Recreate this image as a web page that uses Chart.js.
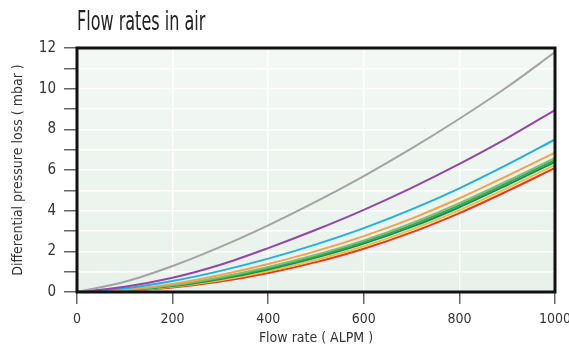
<!DOCTYPE html>
<html>
<head>
<meta charset="utf-8">
<script src="https://cdn.jsdelivr.net/npm/chart.js@4/dist/chart.umd.min.js"></script>
<style>
  html, body { margin: 0; padding: 0; background: #fff; }
  #wrap { position: relative; width: 569px; height: 351px; }
</style>
</head>
<body>
<div id="wrap"><canvas id="flow-chart"></canvas></div>
<script>
/* ── Data ── */
const flowRates = [0, 100, 200, 300, 400, 500, 600, 700, 800, 900, 1000];

const grayLoss       = [0, 0.5, 1.28, 2.22, 3.28, 4.44, 5.7, 7.06, 8.52, 10.08, 11.8];
const purpleLoss     = [0, 0.26, 0.7, 1.34, 2.16, 3.06, 4.04, 5.12, 6.3, 7.57, 8.95];
const blueLoss       = [0, 0.18, 0.54, 1.04, 1.64, 2.34, 3.14, 4.06, 5.1, 6.26, 7.5];
const orangeLoss     = [0, 0.12, 0.4, 0.84, 1.38, 2.01, 2.75, 3.61, 4.61, 5.71, 6.85];
const lightGreenLoss = [0, 0.1, 0.34, 0.73, 1.23, 1.83, 2.54, 3.39, 4.37, 5.46, 6.6];
const greenLoss      = [0, 0.09, 0.32, 0.68, 1.17, 1.76, 2.46, 3.29, 4.27, 5.36, 6.5];
const tealLoss       = [0, 0.08, 0.29, 0.64, 1.11, 1.69, 2.38, 3.2, 4.17, 5.26, 6.4];
const yellowLoss     = [0, 0.07, 0.26, 0.58, 1.02, 1.58, 2.25, 3.07, 4.03, 5.11, 6.25];
const redLoss        = [0, 0.06, 0.22, 0.51, 0.93, 1.47, 2.13, 2.93, 3.88, 4.96, 6.1];

const yTicks = [0, 2, 4, 6, 8, 10, 12];
const xTicks = [0, 200, 400, 600, 800, 1000];

const FONT = "'Liberation Sans Narrow', 'DejaVu Sans Condensed', 'Arial Narrow', sans-serif";

/* ── Series styling ── */
const series = [
  { label: 'A', data: grayLoss,       color: '#a3a3a3' },
  { label: 'B', data: purpleLoss,     color: '#9346a8' },
  { label: 'C', data: blueLoss,       color: '#1fb0e6' },
  { label: 'D', data: orangeLoss,     color: '#f7a04b' },
  { label: 'E', data: lightGreenLoss, color: '#78c26f' },
  { label: 'F', data: greenLoss,      color: '#34a853' },
  { label: 'G', data: tealLoss,       color: '#138a5e' },
  { label: 'H', data: yellowLoss,     color: '#f2c12e' },
  { label: 'I', data: redLoss,        color: '#e8352a' }
];

/* ── Plot background, frame and title ── */
const framePlugin = {
  id: 'frame',
  beforeDraw(chart) {
    const { ctx, chartArea: a } = chart;
    const g = ctx.createLinearGradient(0, a.top, 0, a.bottom);
    g.addColorStop(0, '#f3f8f4');
    g.addColorStop(1, '#e7f1ea');
    ctx.save();
    ctx.fillStyle = g;
    ctx.fillRect(a.left, a.top, a.right - a.left, a.bottom - a.top);
    ctx.restore();
  },
  afterDraw(chart) {
    const { ctx, chartArea: a } = chart;
    ctx.save();
    ctx.strokeStyle = '#111';
    ctx.lineWidth = 3;
    ctx.strokeRect(a.left, a.top, a.right - a.left, a.bottom - a.top);

    // title, squeezed to look condensed
    ctx.fillStyle = '#222';
    ctx.font = '27px ' + FONT;
    ctx.textBaseline = 'middle';
    ctx.translate(a.left, 23);
    ctx.scale(0.66, 1);
    ctx.fillText('Flow rates in air', 0, 0);
    ctx.restore();
  }
};

new Chart(document.getElementById('flow-chart'), {
  type: 'line',
  data: {
    labels: flowRates,
    datasets: series.map(s => ({
      label: s.label,
      data: s.data.map((v, i) => ({ x: flowRates[i], y: v })),
      borderColor: s.color,
      borderWidth: 2,
      pointRadius: 0,
      fill: false,
      cubicInterpolationMode: 'monotone'
    }))
  },
  options: {
    responsive: true,
    maintainAspectRatio: false,
    animation: false,
    layout: { padding: { top: 48, right: 0, left: 0, bottom: 0 } },
    plugins: {
      legend: { display: false },
      tooltip: { enabled: false }
    },
    scales: {
      x: {
        type: 'linear',
        min: 0,
        max: 1000,
        afterFit(scale) {
          scale.height = 59;
          scale.paddingLeft = 0;
          scale.paddingRight = 14;
        },
        afterBuildTicks(scale) { scale.ticks = xTicks.map(v => ({ value: v })); },
        grid: { color: '#ffffff', lineWidth: 1.5, tickColor: '#666', tickLength: 12 },
        border: { display: false },
        ticks: {
          color: '#333',
          font: { family: FONT, size: 14 },
          padding: 7,
          autoSkip: false,
          maxRotation: 0,
          callback: v => String(v)
        },
        title: {
          display: true,
          text: 'Flow rate ( ALPM )',
          color: '#333',
          font: { family: FONT, size: 14 },
          padding: { top: 5 }
        }
      },
      y: {
        min: 0,
        max: 12,
        afterFit(scale) { scale.width = 77; },
        ticks: {
          stepSize: 1,
          autoSkip: false,
          color: '#333',
          font: { family: FONT, size: 15 },
          padding: 8,
          callback: v => (yTicks.includes(v) ? String(v) : '')
        },
        grid: { color: '#ffffff', lineWidth: 1.5, tickColor: '#666', tickLength: 13 },
        border: { display: false },
        title: {
          display: true,
          text: 'Differential pressure loss ( mbar )',
          color: '#333',
          font: { family: FONT, size: 14 },
          padding: { top: 10, bottom: 2 }
        }
      }
    }
  },
  plugins: [framePlugin]
});
</script>
</body>
</html>
